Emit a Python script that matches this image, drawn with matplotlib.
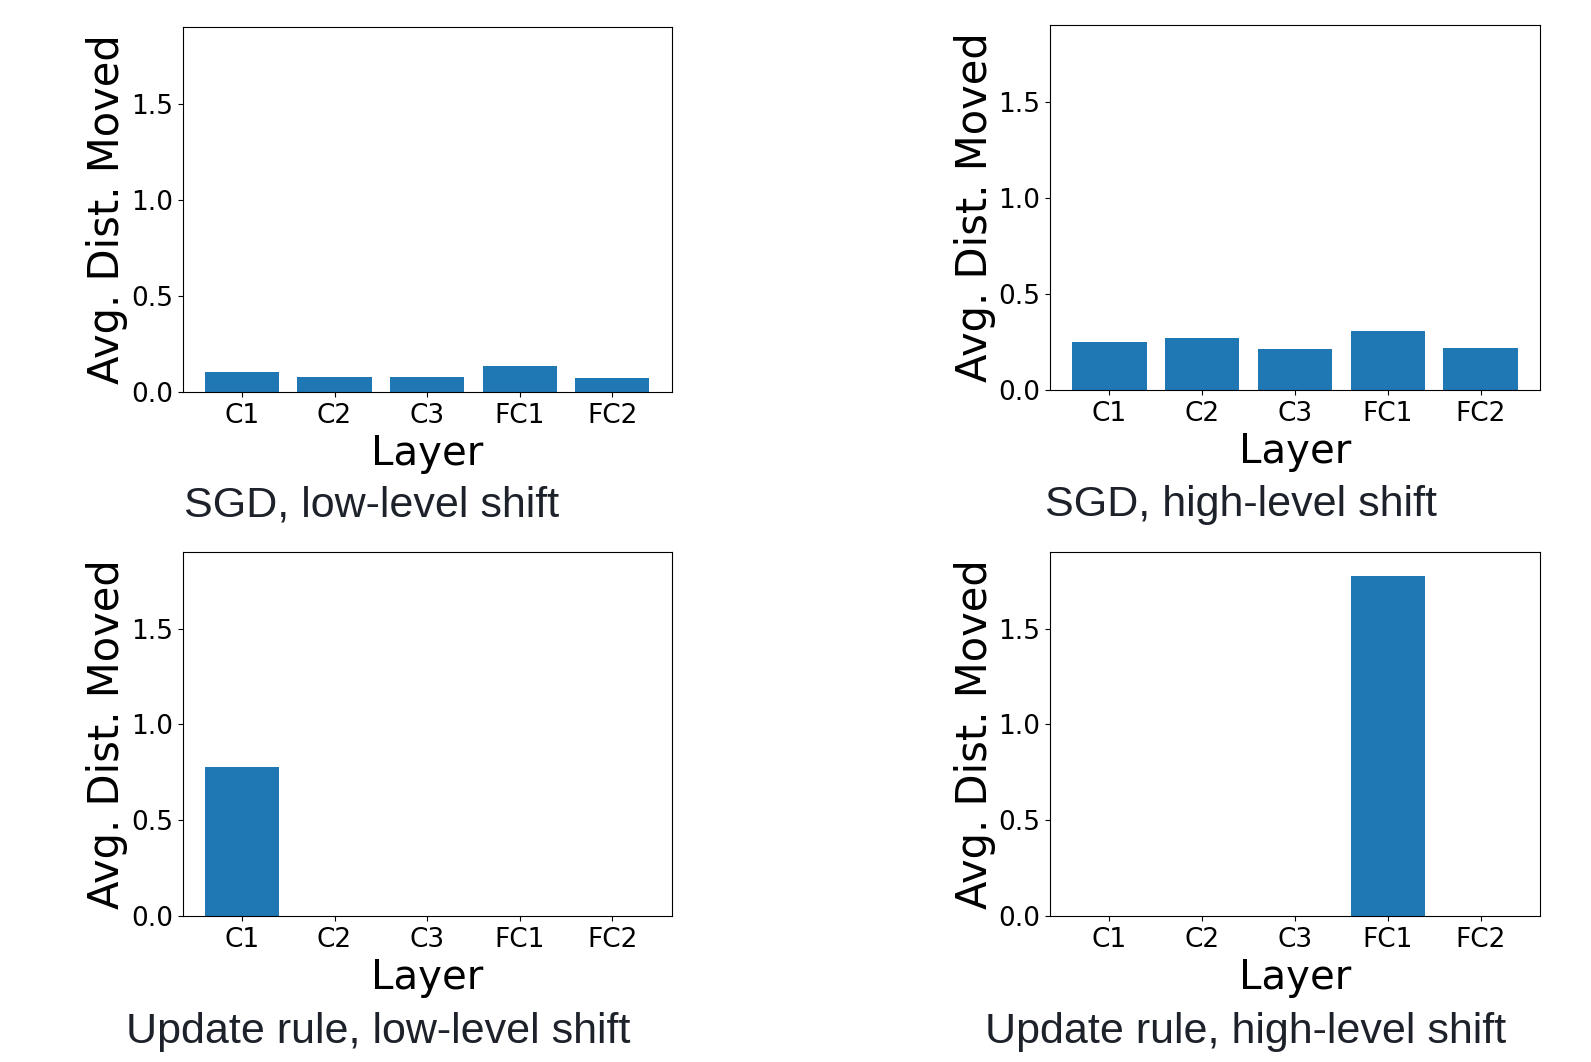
import numpy as np
import matplotlib.pyplot as plt

layers = ['C1', 'C2', 'C3', 'FC1', 'FC2']

sgd_low = [0.103, 0.077, 0.077, 0.134, 0.071]
sgd_high = [0.246, 0.267, 0.210, 0.304, 0.215]
rule_low = [0.778, 0.0, 0.0, 0.0, 0.0]
rule_high = [0.0, 0.0, 0.0, 1.777, 0.0]

captions = ['SGD, low-level shift', 'SGD, high-level shift',
            'Update rule, low-level shift', 'Update rule, high-level shift']
series = [sgd_low, sgd_high, rule_low, rule_high]

W, H = 1591, 1062
fig = plt.figure(figsize=(W / 100, H / 100), dpi=100)

# axes boxes in pixels: left, top, right, bottom
boxes = [(182.6, 27.4, 671.7, 391.7),
         (1050.0, 25.4, 1540.0, 389.6),
         (182.6, 552.0, 671.7, 916.0),
         (1050.0, 552.0, 1540.0, 916.0)]
caption_pos = [(372, 506), (1241, 505), (378, 1032), (1246, 1032)]

for vals, box, cap, cpos in zip(series, boxes, captions, caption_pos):
    l, t, r, b = box
    ax = fig.add_axes([l / W, 1 - b / H, (r - l) / W, (b - t) / H])
    x = np.arange(len(layers))
    ax.bar(x, vals, width=0.8, color='#1f77b4')
    ax.set_xticks(x)
    ax.set_xticklabels(layers)
    ax.set_ylim(0, 1.9)
    ax.set_yticks([0.0, 0.5, 1.0, 1.5])
    ax.tick_params(labelsize=19)
    ax.tick_params(axis='x', pad=4.5)
    ax.set_xlabel('Layer', fontsize=29, labelpad=3.5)
    ax.set_ylabel('Avg. Dist. Moved', fontsize=30, labelpad=2)
    fig.text(cpos[0] / W, 1 - cpos[1] / H, cap, ha='center', va='center',
             fontsize=31, family='Liberation Sans', color='#1d2129')

plt.savefig('out.png', dpi=100)
